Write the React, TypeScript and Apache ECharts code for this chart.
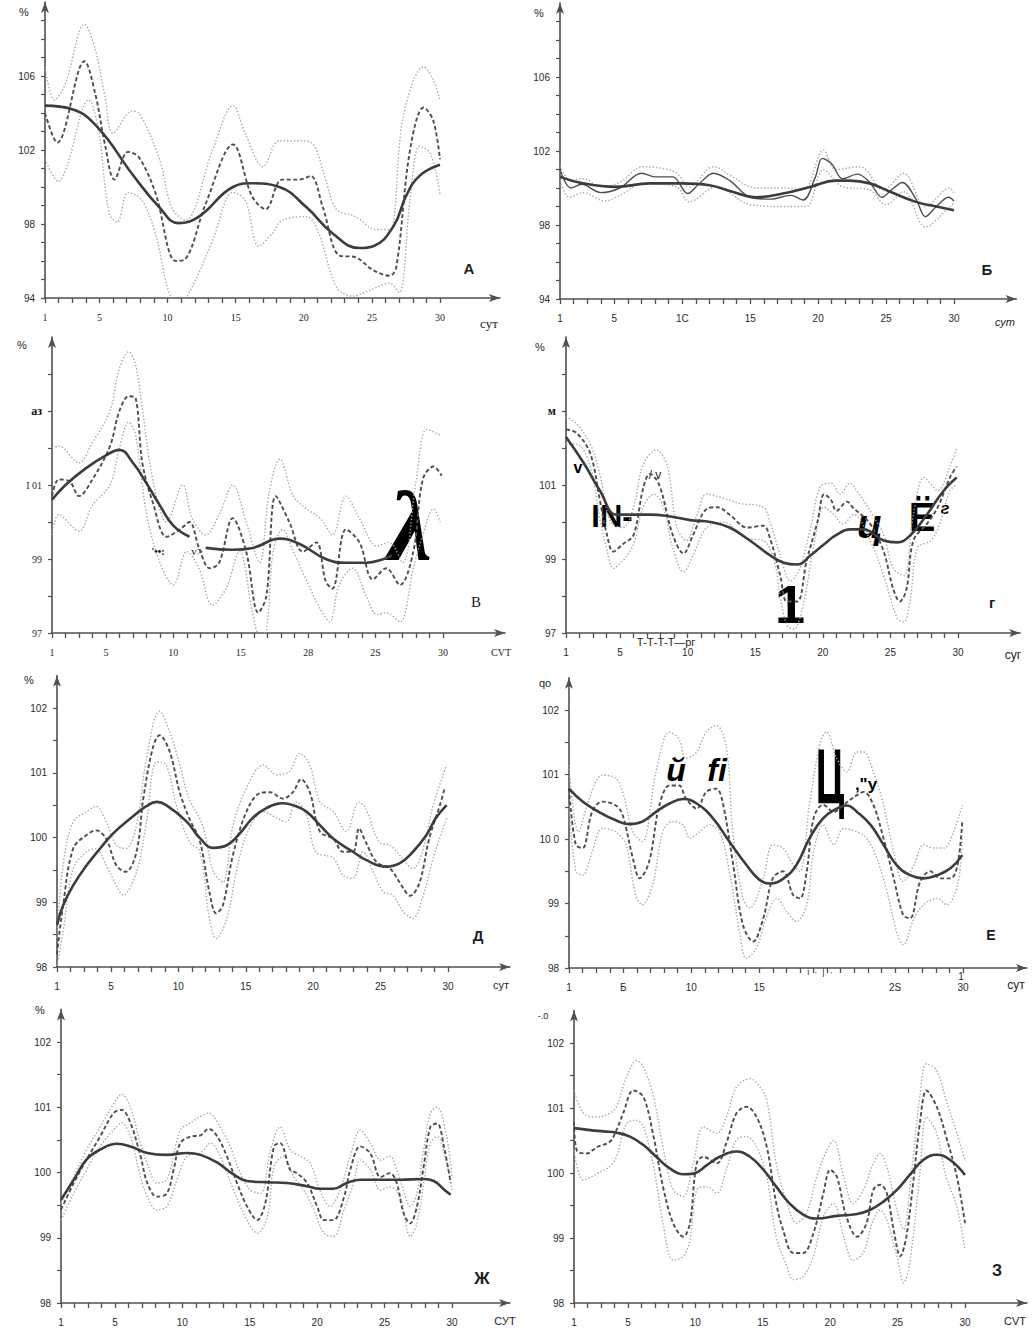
import React, { useEffect, useRef } from "react";
import * as echarts from "echarts";

type Pt = [number, number];

// ---------- tick / label arrays ----------
const dayTicks = [1, 2, 3, 4, 5, 6, 7, 8, 9, 10, 11, 12, 13, 14, 15, 16, 17, 18, 19, 20, 21, 22, 23, 24, 25, 26, 27, 28, 29, 30];
const labelDays = [1, 5, 10, 15, 20, 25, 30];
const xLabelsA = ["1", "5", "10", "15", "20", "25", "30"];
const xLabelsB = ["1", "5", "1С", "15", "20", "25", "30"];
const xLabelsV = ["1", "5", "10", "15", "28", "2S", "30"];
const xLabelsG = ["1", "5", "10", "15", "20", "25", "30"];
const xLabelsD = ["1", "5", "10", "15", "20", "25", "30"];
const xLabelsE = ["1", "Б", "10", "15", "", "2S", "30"];
const xLabelsZh = ["1", "5", "10", "15", "20", "25", "30"];
const xLabelsZ = ["1", "5", "10", "15", "20", "25", "30"];

const yTicksAB = [94, 95, 96, 97, 98, 99, 100, 101, 102, 103, 104, 105, 106, 107, 108, 109];
const yLabelValsAB = [94, 98, 102, 106];
const yLabelsAB = ["94", "98", "102", "106"];
const yTicksVG = [97, 98, 99, 100, 101, 102, 103, 104];
const yLabelValsVG = [97, 99, 101, 103];
const yLabelsV = ["97", "99", "I 01", "{b|аз}"];
const yLabelsG = ["97", "99", "101", "{b|м}"];
const yTicksLow = [98, 98.5, 99, 99.5, 100, 100.5, 101, 101.5, 102];
const yLabelValsLow = [98, 99, 100, 101, 102];
const yLabelsLow = ["98", "99", "100", "101", "102"];
const yLabelsE = ["98", "99", "10 0", "101", "102"];

// ---------- Panel А ----------
const trendA: Pt[] = [[1, 104.4], [3, 104.2], [4.9, 103.2], [7.4, 100.7], [9.4, 98.9], [10.8, 98.05], [12.3, 98.4], [14.8, 100.0], [16.2, 100.2], [18.2, 100.0], [20.2, 98.9], [22.1, 97.5], [24.1, 96.7], [25.1, 96.8], [26.6, 97.9], [27.5, 99.5], [28.5, 100.6], [30, 101.2]];
const meanA: Pt[] = [[1, 104.0], [1.9, 102.4], [3.9, 106.8], [4.7, 105.0], [5.4, 102.3], [6.1, 100.4], [7.1, 101.9], [7.9, 101.6], [9.1, 99.7], [10.6, 96.0], [11.3, 96.1], [12.8, 99.1], [14.8, 102.3], [16.2, 99.5], [17.2, 98.8], [18.4, 100.4], [19.7, 100.4], [20.5, 100.6], [21.4, 98.9], [22.6, 96.3], [23.8, 96.2], [25.1, 95.5], [26.3, 95.2], [26.8, 95.7], [27.8, 102.0], [28.8, 104.3], [29.5, 103.6], [30, 101.5]];
const upperA: Pt[] = [[1, 106.5], [1.7, 104.7], [2.5, 105.6], [3.9, 108.8], [4.7, 107.4], [5.4, 104.9], [6, 102.9], [7.4, 104.1], [7.9, 104.0], [9.4, 101.5], [10.3, 98.9], [11.3, 98.2], [13.3, 102.0], [14.8, 104.4], [15.7, 102.9], [17, 101.1], [18.2, 102.5], [19.7, 102.5], [20.7, 102.3], [21.6, 100.4], [22.4, 98.8], [23.8, 98.4], [25.3, 97.7], [26.3, 97.7], [27.3, 103.8], [28.8, 106.5], [29.5, 105.8], [30, 104.7]];
const lowerA: Pt[] = [[1, 101.5], [2, 100.3], [2.6, 101.1], [4.2, 104.7], [4.9, 103.2], [5.7, 98.6], [6.3, 98.1], [7.1, 99.7], [8.1, 99.3], [9.1, 97.5], [10.1, 94.3], [10.8, 93.6], [11.8, 94.6], [13.3, 97.1], [14.8, 99.7], [15.7, 99.3], [16.7, 96.8], [17.7, 97.5], [18.4, 98.2], [20.2, 98.4], [21.1, 97.5], [22.4, 94.6], [23.6, 94.1], [24.8, 94.4], [26.3, 94.8], [27, 94.3], [27.8, 99.3], [28.5, 102.2], [29.3, 101.8], [30, 99.6]];

// ---------- Panel Б ----------
const trendB: Pt[] = [[1, 100.6], [2.7, 100.25], [5.1, 100.06], [7.6, 100.25], [10, 100.25], [12, 100.15], [13.7, 99.8], [15.4, 99.5], [17.4, 99.7], [19.4, 100.06], [21.3, 100.4], [22.3, 100.4], [23.8, 100.25], [25.3, 99.8], [27.2, 99.25], [28.7, 99.0], [30, 98.8]];
const meanB: Pt[] = [[1, 101.0], [1.8, 100.0], [2.6, 100.2], [4, 99.75], [5.4, 100.0], [7, 100.8], [8, 100.6], [9.3, 100.6], [10.4, 99.7], [11.2, 100.2], [12.3, 100.8], [13.5, 100.4], [15, 99.5], [16.5, 99.4], [18, 99.6], [18.9, 99.35], [19.8, 100.6], [20.3, 101.6], [21, 101.3], [21.8, 100.5], [22.9, 100.75], [23.8, 100.3], [24.7, 99.5], [25.4, 99.9], [26.2, 100.3], [27.2, 99.4], [27.9, 98.45], [28.7, 99.0], [29.6, 99.5], [30, 99.3]];
const upperB: Pt[] = [[1, 101.2], [1.8, 100.4], [2.7, 100.5], [4, 100.06], [5.4, 100.3], [7.1, 101.15], [8.6, 101.05], [9.6, 100.8], [10.5, 100.06], [12.3, 101.15], [13.7, 100.6], [15.4, 100.0], [17.4, 100.0], [18.9, 99.9], [20.4, 102.05], [21.3, 101.0], [23.1, 101.15], [24.8, 99.9], [26.3, 100.8], [27.9, 99.0], [29.7, 100.0], [30, 99.7]];
const lowerB: Pt[] = [[1, 100.4], [1.7, 99.5], [2.7, 99.75], [4.3, 99.3], [5.4, 99.6], [7.1, 100.25], [9.6, 100.06], [10.5, 99.25], [12.5, 100.06], [15, 99.1], [17.4, 99.0], [19.1, 99.0], [20.4, 101.0], [21.8, 100.06], [23.8, 99.9], [25, 99.1], [26.3, 99.8], [27.9, 97.9], [29.7, 99.0], [30, 99.2]];

// ---------- Panel В ----------
const trendV1: Pt[] = [[1, 100.6], [2, 101.0], [3.5, 101.45], [5, 101.8], [6, 101.95], [7, 101.6], [8, 101.05], [9, 100.45], [10, 99.9], [11.2, 99.6]];
const trendV2: Pt[] = [[12.4, 99.3], [14.4, 99.25], [15.9, 99.3], [17.9, 99.55], [19.4, 99.4], [21.3, 99.0], [22.8, 98.9], [24.3, 98.9], [25.6, 99.0], [26.2, 99.1]];
const meanV: Pt[] = [[1, 100.7], [1.5, 101.15], [2.3, 101.1], [3, 100.7], [4, 101.15], [5.3, 102.05], [6, 103.0], [6.7, 103.4], [7.2, 103.35], [7.7, 101.6], [8.5, 100.5], [9.5, 99.6], [10.5, 99.8], [11.2, 100.0], [11.9, 99.3], [12.7, 98.75], [13.4, 98.9], [14.4, 100.1], [15.4, 99.2], [16.3, 97.55], [16.9, 98.0], [17.6, 100.7], [18.6, 100.0], [19.6, 99.2], [20.6, 99.45], [21.3, 98.4], [21.8, 98.2], [22.8, 99.8], [23.8, 99.45], [24.8, 98.45], [25.8, 98.75], [26.8, 98.3], [27.8, 99.2], [28.5, 101.15], [29.3, 101.5], [29.9, 101.25]];
const upperV: Pt[] = [[1, 102.0], [1.5, 102.05], [3, 101.6], [4, 102.15], [5.3, 103.0], [6, 104.15], [6.7, 104.6], [7.2, 104.25], [7.7, 103.05], [8.5, 101.1], [9.5, 100.0], [10.7, 101.0], [11.4, 100.1], [12.4, 99.65], [13.4, 100.2], [14.4, 101.0], [15.4, 100.0], [16.4, 98.9], [17.1, 100.8], [17.9, 101.7], [18.9, 100.7], [19.9, 100.35], [20.9, 100.1], [21.8, 99.65], [22.8, 100.7], [23.8, 100.1], [25.1, 99.35], [26, 99.45], [27, 98.9], [28, 101.1], [28.8, 102.5], [29.8, 102.35]];
const lowerV: Pt[] = [[1, 99.65], [1.5, 100.2], [3, 99.75], [4, 100.45], [5.3, 101.0], [6, 102.0], [6.7, 102.7], [7.2, 102.35], [8, 100.25], [9, 98.9], [10, 98.3], [11, 99.2], [11.9, 98.75], [12.9, 97.75], [13.9, 98.2], [14.9, 99.2], [15.9, 97.5], [16.4, 96.95], [16.9, 97.1], [17.4, 99.2], [18.1, 99.8], [18.9, 99.2], [19.9, 98.4], [20.9, 97.65], [21.6, 97.3], [22.3, 98.3], [23.3, 98.75], [24.3, 98.0], [25.1, 97.5], [25.8, 97.55], [26.8, 97.3], [27.8, 98.75], [28.5, 99.65], [29.3, 100.35], [29.8, 100.0]];

// ---------- Panel Г ----------
const trendG: Pt[] = [[1, 102.3], [2.3, 101.6], [3.5, 100.85], [4.75, 100.2], [5.7, 100.2], [7.2, 100.2], [8.7, 100.15], [10.2, 100.05], [11.7, 100.0], [13.1, 99.85], [14.6, 99.5], [16.1, 99.1], [17.1, 98.9], [18.1, 98.85], [19.1, 99.1], [20.1, 99.4], [21, 99.65], [22, 99.8], [23, 99.8], [24.5, 99.5], [25.5, 99.45], [26.5, 99.65], [27.6, 100.15], [28.95, 100.85], [29.9, 101.2]];
const meanG: Pt[] = [[1, 102.5], [1.8, 102.4], [2.8, 101.85], [3.5, 100.6], [4, 99.7], [4.5, 99.2], [5.2, 99.4], [6, 99.65], [6.7, 100.9], [7.2, 101.3], [7.9, 101.0], [8.9, 99.65], [9.7, 99.15], [10.4, 99.65], [11.4, 100.35], [12.2, 100.4], [13.1, 100.2], [14.4, 99.85], [15.6, 99.9], [16.1, 99.55], [16.85, 98.55], [17.35, 97.85], [18.1, 97.85], [18.8, 98.95], [19.6, 100.0], [20.1, 100.75], [20.6, 100.6], [21, 100.3], [21.8, 100.55], [22.2, 100.4], [23.5, 99.95], [24.5, 99.2], [25.2, 98.2], [25.7, 97.85], [26.2, 98.2], [26.7, 99.5], [27.7, 99.95], [28.5, 100.4], [29.4, 101.2], [29.9, 101.5]];
const upperG: Pt[] = [[1, 102.85], [1.8, 102.65], [2.8, 102.1], [3.5, 101.3], [4.3, 100.0], [5.2, 99.85], [6, 100.4], [6.7, 101.55], [7.7, 101.95], [8.5, 101.5], [9.2, 99.85], [9.9, 99.5], [10.7, 100.2], [11.4, 100.75], [12.6, 100.65], [13.9, 100.5], [15.6, 100.4], [16.1, 100.0], [16.85, 99.1], [17.6, 98.4], [18.3, 98.75], [19.1, 99.85], [19.8, 100.95], [20.6, 101.05], [21.3, 100.75], [22, 101.05], [22.5, 100.85], [23.5, 100.3], [24.5, 99.65], [25.2, 98.75], [26, 98.55], [26.7, 100.2], [27.5, 101.2], [28.5, 100.85], [29.4, 101.5], [29.9, 102.0]];
const lowerG: Pt[] = [[1, 102.1], [1.8, 102.1], [2.8, 101.5], [3.5, 100.1], [4, 99.3], [4.5, 98.75], [5.2, 98.95], [6, 99.4], [6.7, 100.4], [7.5, 100.75], [8.2, 100.4], [8.9, 99.3], [9.7, 98.65], [10.4, 99.1], [11.4, 99.85], [12.6, 100.0], [14.4, 99.55], [15.6, 99.5], [16.4, 98.95], [16.85, 98.0], [17.35, 97.2], [17.85, 97.1], [18.6, 97.85], [19.3, 99.3], [20.1, 100.4], [20.8, 100.2], [21.5, 99.95], [22.3, 100.2], [23.5, 99.5], [24.5, 98.55], [25.5, 97.4], [26, 97.3], [26.5, 98.0], [27, 99.3], [28, 99.5], [28.7, 100.0], [29.4, 100.85], [29.9, 101.0]];

// ---------- Panel Д ----------
const trendD: Pt[] = [[1, 98.65], [1.45, 98.95], [2.2, 99.26], [3.2, 99.57], [4.2, 99.83], [5.15, 100.06], [6.6, 100.32], [7.6, 100.48], [8.4, 100.55], [9.1, 100.5], [10.6, 100.25], [11.6, 99.99], [12.6, 99.84], [13.6, 99.88], [14.55, 100.06], [15.5, 100.3], [16.5, 100.45], [17.75, 100.53], [18.5, 100.5], [19.5, 100.4], [20.5, 100.19], [21.5, 99.98], [22.95, 99.78], [23.95, 99.65], [25.4, 99.55], [26.4, 99.6], [27.4, 99.78], [28.4, 100.04], [29.1, 100.3], [29.9, 100.5]];
const meanD: Pt[] = [[1, 98.2], [1.45, 98.95], [2.2, 99.83], [3.2, 100.04], [3.9, 100.11], [4.65, 99.98], [5.4, 99.57], [6.1, 99.47], [6.9, 99.78], [7.4, 100.6], [8.1, 101.38], [8.6, 101.58], [9.35, 101.33], [10.1, 100.7], [10.8, 100.3], [11.6, 99.94], [12.3, 99.16], [12.8, 98.83], [13.3, 98.95], [14.05, 99.73], [15.05, 100.4], [16, 100.68], [16.8, 100.7], [17.75, 100.6], [18.5, 100.7], [19.1, 100.9], [19.75, 100.7], [20.5, 100.09], [21.5, 99.98], [22.2, 99.78], [22.95, 99.78], [23.4, 100.14], [23.9, 99.93], [24.7, 99.62], [25.7, 99.52], [26.4, 99.31], [27.2, 99.1], [27.9, 99.31], [28.6, 99.98], [29.4, 100.5], [29.75, 100.76]];
const upperD: Pt[] = [[1, 98.45], [1.45, 99.57], [2.2, 100.24], [3.2, 100.4], [3.9, 100.48], [4.65, 100.24], [5.4, 99.88], [6.1, 99.83], [6.9, 100.19], [7.6, 101.17], [8.6, 101.95], [9.35, 101.64], [10.1, 101.12], [10.8, 100.6], [11.8, 100.19], [12.6, 99.47], [13.3, 99.31], [14.05, 100.19], [15.05, 100.76], [16.3, 101.12], [17.3, 100.97], [18.25, 101.02], [19, 101.3], [19.75, 101.12], [20.5, 100.55], [21.5, 100.4], [22.45, 100.09], [23.4, 100.55], [23.9, 100.45], [24.9, 99.93], [25.7, 99.88], [26.4, 99.73], [27.4, 99.52], [28.1, 99.78], [28.9, 100.5], [29.9, 101.12]];
const lowerD: Pt[] = [[1, 98.02], [1.45, 98.54], [2.2, 99.52], [3.2, 99.78], [3.9, 99.83], [4.65, 99.57], [5.4, 99.26], [5.9, 99.11], [6.9, 99.47], [7.6, 100.19], [8.4, 101.17], [9.1, 101.12], [9.85, 100.5], [10.8, 99.94], [11.6, 99.78], [12.3, 98.75], [12.8, 98.44], [13.6, 98.75], [14.3, 99.47], [15.05, 100.04], [16.3, 100.4], [17.3, 100.3], [18, 100.24], [18.75, 100.55], [19.5, 100.35], [20.2, 99.78], [21.5, 99.68], [22.2, 99.42], [22.95, 99.37], [23.7, 99.78], [24.45, 99.47], [25.2, 99.16], [25.9, 99.11], [26.7, 98.85], [27.4, 98.75], [28.1, 99.06], [28.9, 99.68], [29.9, 100.3]];

// ---------- Panel Е ----------
const trendE: Pt[] = [[1, 100.78], [2, 100.58], [3.2, 100.42], [4.45, 100.29], [5.4, 100.23], [6.4, 100.27], [7.4, 100.42], [8.4, 100.55], [9.4, 100.62], [10.4, 100.55], [11.6, 100.32], [12.8, 99.96], [14.05, 99.6], [15, 99.37], [15.8, 99.31], [16.8, 99.39], [17.75, 99.6], [18.7, 100.01], [19.7, 100.32], [20.7, 100.47], [21.45, 100.52], [22.2, 100.42], [23.2, 100.22], [24.15, 99.91], [25.1, 99.6], [26.1, 99.44], [27.1, 99.39], [28.1, 99.44], [29.1, 99.55], [29.95, 99.75]];
const meanE: Pt[] = [[1, 100.78], [1.5, 99.91], [2, 99.86], [2.7, 100.42], [3.45, 100.58], [4.45, 100.52], [4.95, 100.37], [5.7, 99.7], [6.2, 99.39], [6.9, 99.65], [7.65, 100.52], [8.4, 100.83], [9.1, 100.83], [9.6, 100.63], [10.4, 100.47], [11.1, 100.73], [11.85, 100.78], [12.3, 100.58], [13.05, 99.65], [13.8, 98.67], [14.55, 98.41], [15.3, 98.77], [16, 99.39], [16.75, 99.5], [17.5, 99.13], [18, 99.08], [18.5, 99.5], [19, 100.32], [19.7, 100.53], [20.5, 100.42], [21.2, 100.53], [22.2, 100.68], [22.7, 100.73], [23.4, 100.53], [24.15, 100.01], [24.9, 99.39], [25.6, 98.82], [26.1, 98.77], [26.85, 99.34], [27.6, 99.5], [28.3, 99.39], [29.1, 99.39], [29.6, 99.6], [29.95, 100.27]];
const upperE: Pt[] = [[1, 101.14], [1.7, 100.11], [2.5, 100.63], [3.45, 100.99], [4.45, 100.94], [4.95, 100.73], [5.7, 100.11], [6.4, 99.96], [7.4, 101.04], [8.4, 101.66], [9.1, 101.55], [9.6, 101.25], [10.4, 101.35], [11.1, 101.66], [11.85, 101.76], [12.6, 101.4], [13.05, 100.11], [13.8, 99.08], [14.3, 98.93], [15.3, 99.39], [16, 99.91], [16.75, 99.86], [17.5, 99.6], [18, 99.5], [18.7, 100.53], [19.5, 101.5], [19.95, 101.66], [20.7, 101.25], [21.45, 101.04], [22.2, 101.35], [22.7, 101.35], [23.4, 101.04], [24.15, 100.53], [24.9, 99.8], [25.6, 99.34], [26.4, 99.6], [27.1, 99.91], [27.85, 99.86], [28.6, 99.86], [29.3, 100.11], [29.95, 100.53]];
const lowerE: Pt[] = [[1, 100.53], [1.5, 99.5], [2, 99.44], [2.7, 99.8], [3.45, 100.16], [4.45, 100.11], [5.2, 99.91], [5.9, 99.13], [6.4, 98.98], [7.15, 99.29], [7.9, 100.11], [8.6, 100.27], [9.4, 100.22], [9.9, 100.01], [10.6, 100.11], [11.35, 100.22], [12.1, 100.11], [12.8, 99.5], [13.55, 98.57], [14.05, 98.15], [14.8, 98.31], [15.5, 98.77], [16.3, 99.08], [17, 98.88], [17.75, 98.72], [18.5, 98.98], [19, 99.8], [19.7, 100.22], [20.5, 99.91], [21.2, 100.16], [22.2, 100.11], [22.9, 100.01], [23.65, 99.7], [24.4, 99.19], [25.1, 98.57], [25.6, 98.36], [26.4, 98.77], [27.1, 98.98], [28.1, 99.08], [28.8, 98.98], [29.6, 99.29], [29.95, 100.01]];

// ---------- Panel Ж ----------
const trendZh: Pt[] = [[1, 99.58], [1.95, 99.89], [2.9, 100.2], [3.9, 100.35], [5.15, 100.44], [6.15, 100.4], [7.4, 100.3], [8.85, 100.27], [10.35, 100.3], [11.35, 100.27], [12.6, 100.15], [13.8, 99.97], [14.8, 99.87], [16.3, 99.85], [17.75, 99.84], [19.25, 99.79], [20.2, 99.75], [21.2, 99.75], [22.2, 99.84], [23.2, 99.89], [24.7, 99.89], [26.15, 99.89], [27.9, 99.9], [28.65, 99.87], [29.4, 99.74], [29.9, 99.66]];
const meanZh: Pt[] = [[1, 99.43], [1.95, 99.84], [2.9, 100.2], [3.9, 100.55], [4.9, 100.91], [5.5, 100.96], [6.15, 100.76], [6.9, 100.25], [7.4, 99.84], [8.1, 99.63], [8.85, 99.68], [9.35, 100.04], [9.85, 100.45], [10.6, 100.55], [11.35, 100.57], [11.95, 100.67], [12.6, 100.55], [13.3, 100.25], [14.05, 99.84], [14.8, 99.48], [15.55, 99.27], [16.15, 99.53], [16.8, 100.4], [17.25, 100.45], [18, 100.04], [18.5, 99.99], [19.25, 99.84], [20, 99.48], [20.5, 99.27], [21.2, 99.27], [22, 99.63], [22.45, 100.04], [23.2, 100.4], [23.95, 100.29], [24.7, 99.93], [25.4, 99.99], [25.9, 99.84], [26.4, 99.38], [26.9, 99.22], [27.4, 99.48], [27.9, 100.09], [28.4, 100.7], [28.9, 100.75], [29.4, 100.4], [29.9, 99.84]];
const upperZh: Pt[] = [[1, 99.53], [1.95, 99.94], [2.9, 100.35], [3.9, 100.7], [4.9, 101.05], [5.5, 101.2], [6.15, 101.0], [6.9, 100.44], [7.4, 100.14], [8.1, 99.84], [8.85, 99.89], [9.85, 100.65], [10.6, 100.76], [11.35, 100.86], [11.95, 100.91], [12.8, 100.7], [13.55, 100.4], [14.3, 99.99], [15.05, 99.73], [15.8, 99.68], [16.55, 100.35], [17.25, 100.7], [18, 100.35], [18.75, 100.25], [19.5, 100.14], [20.2, 99.73], [20.95, 99.48], [21.7, 99.73], [22.45, 100.25], [23.2, 100.65], [23.95, 100.45], [24.7, 100.19], [25.4, 100.25], [25.9, 100.04], [26.4, 99.73], [26.9, 99.48], [27.4, 99.68], [27.9, 100.35], [28.4, 100.91], [28.9, 101.0], [29.6, 100.55], [30, 99.94]];
const lowerZh: Pt[] = [[1, 99.27], [1.95, 99.68], [2.9, 100.04], [3.9, 100.4], [4.9, 100.65], [5.5, 100.76], [6.15, 100.55], [6.9, 99.93], [7.4, 99.63], [8.1, 99.43], [8.85, 99.48], [9.6, 99.89], [10.35, 100.25], [11.35, 100.3], [12.1, 100.45], [12.8, 100.25], [13.8, 99.73], [14.8, 99.27], [15.55, 99.07], [16.3, 99.32], [16.8, 100.09], [17.5, 100.25], [18.25, 99.94], [19, 99.73], [19.75, 99.43], [20.5, 99.07], [21.2, 99.02], [22, 99.43], [22.7, 99.84], [23.2, 100.19], [23.95, 100.04], [24.7, 99.73], [25.4, 99.78], [26.15, 99.63], [26.9, 99.02], [27.4, 99.22], [27.9, 99.84], [28.4, 100.45], [28.9, 100.55], [29.6, 100.14], [30, 99.73]];

// ---------- Panel З ----------
const trendZ: Pt[] = [[1, 100.69], [2.2, 100.66], [3.2, 100.64], [4.15, 100.62], [5.15, 100.56], [6.15, 100.43], [7.1, 100.25], [8.1, 100.07], [9.1, 99.98], [9.85, 99.99], [10.85, 100.12], [11.8, 100.25], [13.05, 100.33], [14.05, 100.25], [15.05, 100.05], [16, 99.79], [17, 99.53], [18, 99.36], [19, 99.3], [20.5, 99.34], [22, 99.37], [22.95, 99.43], [23.95, 99.56], [24.95, 99.74], [25.9, 99.97], [26.9, 100.2], [27.9, 100.28], [28.9, 100.2], [30, 99.97]];
const meanZ: Pt[] = [[1, 100.79], [1.2, 100.35], [1.95, 100.3], [2.7, 100.4], [3.65, 100.48], [4.15, 100.66], [4.65, 100.92], [5.4, 101.27], [6.15, 101.17], [6.9, 100.56], [7.6, 99.79], [8.35, 99.23], [9.1, 99.02], [9.6, 99.23], [10.1, 100.15], [10.6, 100.25], [11.6, 100.15], [12.3, 100.46], [13.05, 100.92], [13.8, 101.02], [14.55, 100.86], [15.3, 100.4], [16, 99.53], [16.5, 99.13], [17.25, 98.77], [18, 98.77], [18.75, 99.07], [19.5, 99.69], [20, 100.05], [20.5, 99.94], [21.2, 99.33], [22, 99.02], [22.7, 99.23], [23.2, 99.74], [23.7, 99.82], [24.2, 99.69], [24.7, 99.13], [25.2, 98.72], [25.65, 99.02], [26.15, 99.84], [26.65, 100.76], [27.15, 101.27], [27.9, 101.02], [28.6, 100.56], [29.4, 99.94], [30, 99.23]];
const upperZ: Pt[] = [[1, 101.27], [1.7, 100.92], [2.7, 100.86], [3.65, 100.92], [4.15, 101.02], [4.9, 101.48], [5.65, 101.73], [6.15, 101.63], [6.9, 101.17], [7.6, 100.4], [8.35, 99.74], [9.1, 99.64], [9.85, 100.15], [10.6, 100.71], [11.6, 100.61], [12.3, 100.86], [13.05, 101.32], [14.05, 101.45], [14.8, 101.32], [15.3, 101.12], [16, 100.15], [16.8, 99.53], [17.5, 99.23], [18.25, 99.38], [19, 99.94], [19.75, 100.35], [20.25, 100.5], [21, 99.94], [21.7, 99.53], [22.45, 99.74], [23.2, 100.15], [23.7, 100.3], [24.2, 100.1], [24.95, 99.43], [25.45, 99.13], [25.9, 99.74], [26.65, 101.17], [27.15, 101.68], [27.9, 101.58], [28.6, 101.12], [29.4, 100.61], [30, 100.2]];
const lowerZ: Pt[] = [[1, 100.35], [1.7, 99.89], [2.7, 99.99], [3.65, 100.1], [4.15, 100.25], [4.9, 100.76], [5.65, 100.81], [6.15, 100.71], [6.9, 100.1], [7.6, 99.23], [8.35, 98.66], [9.1, 98.72], [9.6, 98.97], [10.1, 99.74], [10.85, 99.79], [11.6, 99.69], [12.3, 100.05], [13.05, 100.51], [13.8, 100.56], [14.55, 100.4], [15.3, 99.94], [16, 99.02], [16.8, 98.56], [17.25, 98.36], [18, 98.41], [18.75, 98.72], [19.5, 99.33], [20.25, 99.53], [21, 99.02], [21.7, 98.66], [22.45, 98.77], [23.2, 99.28], [23.7, 99.43], [24.2, 99.28], [24.95, 98.72], [25.45, 98.31], [25.9, 98.61], [26.65, 99.99], [27.15, 100.86], [27.9, 100.61], [28.6, 99.94], [29.4, 99.48], [30, 98.82]];

// ---------- layout / styling ----------
const AXIS = "#505050";
const TREND = "#3c3c3c";
const MEAN = "#4e4e4e";
const DOT = "#a6a6a6";
const NARROW = "'Liberation Sans Narrow', 'Liberation Sans', sans-serif";
const SERIF = "'Liberation Serif', serif";
const SANS = "'Liberation Sans', 'DejaVu Sans', sans-serif";

interface PanelCfg {
  x0: number; x30: number; yBot: number; ppu: number; yMin: number; yMax: number; xMax: number;
  yTicks: number[]; yLabelVals: number[]; yLabels: string[];
  xLabels: string[];
  trends: Pt[][]; mean: Pt[]; upper: Pt[]; lower: Pt[];
  meanSolid?: boolean; xFont: string; yFont: string;
}

const panels: PanelCfg[] = [
  { x0: 45, x30: 440, yBot: 298, ppu: 18.5, yMin: 94, yMax: 110, xMax: 34.4, yTicks: yTicksAB, yLabelVals: yLabelValsAB, yLabels: yLabelsAB, xLabels: xLabelsA, trends: [trendA], mean: meanA, upper: upperA, lower: lowerA, xFont: SERIF, yFont: NARROW },
  { x0: 560, x30: 954, yBot: 299, ppu: 18.5, yMin: 94, yMax: 110, xMax: 34.6, yTicks: yTicksAB, yLabelVals: yLabelValsAB, yLabels: yLabelsAB, xLabels: xLabelsB, trends: [trendB], mean: meanB, upper: upperB, lower: lowerB, meanSolid: true, xFont: SANS, yFont: NARROW },
  { x0: 52, x30: 443, yBot: 633, ppu: 37, yMin: 97, yMax: 105, xMax: 34.6, yTicks: yTicksVG, yLabelVals: yLabelValsVG, yLabels: yLabelsV, xLabels: xLabelsV, trends: [trendV1, trendV2], mean: meanV, upper: upperV, lower: lowerV, xFont: SERIF, yFont: SERIF },
  { x0: 566, x30: 958, yBot: 633, ppu: 37, yMin: 97, yMax: 105, xMax: 34.6, yTicks: yTicksVG, yLabelVals: yLabelValsVG, yLabels: yLabelsG, xLabels: xLabelsG, trends: [trendG], mean: meanG, upper: upperG, lower: lowerG, xFont: SANS, yFont: SANS },
  { x0: 57, x30: 448, yBot: 967, ppu: 64.75, yMin: 98, yMax: 102.5, xMax: 34.6, yTicks: yTicksLow, yLabelVals: yLabelValsLow, yLabels: yLabelsLow, xLabels: xLabelsD, trends: [trendD], mean: meanD, upper: upperD, lower: lowerD, xFont: NARROW, yFont: NARROW },
  { x0: 569, x30: 963, yBot: 968, ppu: 64.5, yMin: 98, yMax: 102.5, xMax: 34.7, yTicks: yTicksLow, yLabelVals: yLabelValsLow, yLabels: yLabelsE, xLabels: xLabelsE, trends: [trendE], mean: meanE, upper: upperE, lower: lowerE, xFont: SANS, yFont: SANS },
  { x0: 61, x30: 452, yBot: 1303, ppu: 65.25, yMin: 98, yMax: 102.5, xMax: 34.3, yTicks: yTicksLow, yLabelVals: yLabelValsLow, yLabels: yLabelsLow, xLabels: xLabelsZh, trends: [trendZh], mean: meanZh, upper: upperZh, lower: lowerZh, xFont: NARROW, yFont: NARROW },
  { x0: 574, x30: 965, yBot: 1303, ppu: 65, yMin: 98, yMax: 102.5, xMax: 34.6, yTicks: yTicksLow, yLabelVals: yLabelValsLow, yLabels: yLabelsLow, xLabels: xLabelsZ, trends: [trendZ], mean: meanZ, upper: upperZ, lower: lowerZ, xFont: NARROW, yFont: NARROW },
];

function txt(x: number, y: number, text: string, font: string, extra: any = {}) {
  const { fill, ...rest } = extra;
  return {
    type: "text", x, y, silent: true, ...rest,
    style: { text, font, fill: fill || "#1e1e1e", textAlign: "center", textVerticalAlign: "middle", align: "center", verticalAlign: "middle" },
  };
}

function buildOption() {
  const grid: any[] = [];
  const xAxis: any[] = [];
  const yAxis: any[] = [];
  const series: any[] = [];
  panels.forEach((p, i) => {
    const width = ((p.xMax - 1) * (p.x30 - p.x0)) / 29;
    const height = (p.yMax - p.yMin) * p.ppu;
    grid.push({ left: p.x0, top: p.yBot - height, width, height, containLabel: false, outerBoundsMode: "none" });
    const xmap: Record<string, string> = {};
    labelDays.forEach((d, k) => (xmap[String(d)] = p.xLabels[k]));
    const ymap: Record<string, string> = {};
    p.yLabelVals.forEach((v, k) => (ymap[String(v)] = p.yLabels[k]));
    xAxis.push({
      type: "value", gridIndex: i, min: 1, max: p.xMax,
      axisLine: { onZero: false, symbol: ["none", "arrow"], symbolSize: [6, 11], lineStyle: { color: AXIS, width: 1.6 } },
      axisTick: { customValues: dayTicks, length: 5, lineStyle: { color: AXIS, width: 1.3 } },
      axisLabel: { customValues: labelDays, margin: 14, fontSize: 10, color: "#2a2a2a", fontFamily: p.xFont, formatter: (v: number) => xmap[String(v)] ?? "" },
      splitLine: { show: false },
    });
    yAxis.push({
      type: "value", gridIndex: i, min: p.yMin, max: p.yMax,
      axisLine: { onZero: false, symbol: ["none", "arrow"], symbolSize: [6, 11], lineStyle: { color: AXIS, width: 1.6 } },
      axisTick: { customValues: p.yTicks, length: 4, lineStyle: { color: AXIS, width: 1.2 } },
      axisLabel: {
        customValues: p.yLabelVals, margin: 10, fontSize: 10, color: "#2a2a2a", fontFamily: p.yFont,
        formatter: (v: number) => ymap[String(v)] ?? "",
        rich: { b: { fontWeight: "bold", fontSize: 12, fontFamily: SERIF, color: "#111" } },
      },
      splitLine: { show: false },
    });
    const base = { type: "line", xAxisIndex: i, yAxisIndex: i, showSymbol: false, symbol: "none", silent: true, smooth: 0.35 };
    series.push({ ...base, data: p.upper, z: 2, lineStyle: { color: DOT, width: 1.4, type: [1.4, 2] } });
    series.push({ ...base, data: p.lower, z: 2, lineStyle: { color: DOT, width: 1.4, type: [1.4, 2] } });
    series.push({ ...base, data: p.mean, z: 3, lineStyle: p.meanSolid ? { color: MEAN, width: 1.4, type: "solid" } : { color: MEAN, width: 1.9, type: [4, 2.5] } });
    p.trends.forEach((t) => series.push({ ...base, data: t, z: 4, smooth: 0.45, lineStyle: { color: TREND, width: 2.6, type: "solid" } }));
  });

  const graphic: any[] = [
    // axis names
    txt(24, 12, "%", `11px ${SANS}`), txt(539, 13, "%", `11px ${SANS}`),
    txt(22, 345, "%", `11px ${SANS}`), txt(540, 347, "%", `11px ${SANS}`),
    txt(29, 680, "%", `11px ${SANS}`), txt(545, 683, "qo", `11px ${SANS}`),
    txt(40, 1010, "%", `11px ${SANS}`), txt(543, 1016, "-.0", `9px ${SANS}`),
    // panel letters
    txt(469, 268, "А", `bold 15px ${SANS}`), txt(987, 269, "Б", `bold 15px ${SANS}`),
    txt(476, 602, "В", `15px ${SERIF}`), txt(992, 602, "г", `bold 15px ${SANS}`),
    txt(478, 935, "Д", `bold 15px ${SANS}`), txt(991, 935, "Е", `bold 14px ${SANS}`),
    txt(482, 1278, "Ж", `bold 17px ${SANS}`), txt(997, 1270, "З", `bold 16px ${SANS}`),
    // units
    txt(489, 323, "сут", `13px ${SERIF}`), txt(1005, 322, "сут", `italic 11px ${SANS}`),
    txt(501, 652, "CVT", `10px ${SERIF}`), txt(1013, 655, "суг", `12px ${SANS}`),
    txt(501, 985, "сут", `11px ${NARROW}`), txt(1016, 985, "сут", `12px ${SANS}`),
    txt(505, 1321, "СУТ", `11px ${NARROW}`), txt(1015, 1321, "СVТ", `11px ${NARROW}`),
    // scan / OCR artifacts reproduced as text
    txt(410, 526, "λ", `italic bold 100px ${SERIF}`, { fill: "#000" }),
    txt(158, 551, "'••:", `bold 10px ${SERIF}`, { fill: "#000" }),
    txt(197, 551, "v>", `11px ${SERIF}`),
    txt(578, 467, "v", `bold 16px ${SANS}`, { fill: "#000" }),
    txt(655, 475, "/ v", `12px ${SANS}`),
    txt(612, 516, "IN-", `bold 31px ${NARROW}`, { fill: "#000" }),
    txt(870, 524, "ц", `italic bold 40px ${SANS}`, { fill: "#000" }),
    txt(922, 517, "Ё", `bold 40px ${SANS}`, { fill: "#000" }),
    txt(945, 508, "г", `italic bold 16px ${SANS}`, { fill: "#000" }),
    txt(790, 604, "1", `bold 54px ${SANS}`, { fill: "#000" }),
    txt(666, 642, "Т-Т-Т-Т—рг", `11px ${SANS}`),
    txt(676, 770, "й", `italic bold 32px ${SANS}`, { fill: "#000" }),
    txt(717, 770, "fi", `italic bold 32px ${SANS}`, { fill: "#000" }),
    txt(830, 776, "Ц", `bold 78px ${SANS}`, { fill: "#000", scaleX: 0.5 }),
    txt(866, 784, ",\"у", `bold 17px ${SANS}`, { fill: "#000" }),
    txt(820, 972, "i  ·  |  ·", `9px ${SANS}`),
    txt(961, 976, "1", `10px ${SANS}`),
  ];

  return { animation: false, backgroundColor: "#fff", grid, xAxis, yAxis, series, graphic };
}

export default function App() {
  const ref = useRef<HTMLDivElement>(null);
  useEffect(() => {
    if (!ref.current) return;
    const chart = echarts.init(ref.current, undefined, { renderer: "svg" });
    chart.setOption(buildOption() as any);
    return () => chart.dispose();
  }, []);
  return <div ref={ref} style={{ position: "absolute", left: 0, top: 0, width: 1034, height: 1329, background: "#fff" }} />;
}
